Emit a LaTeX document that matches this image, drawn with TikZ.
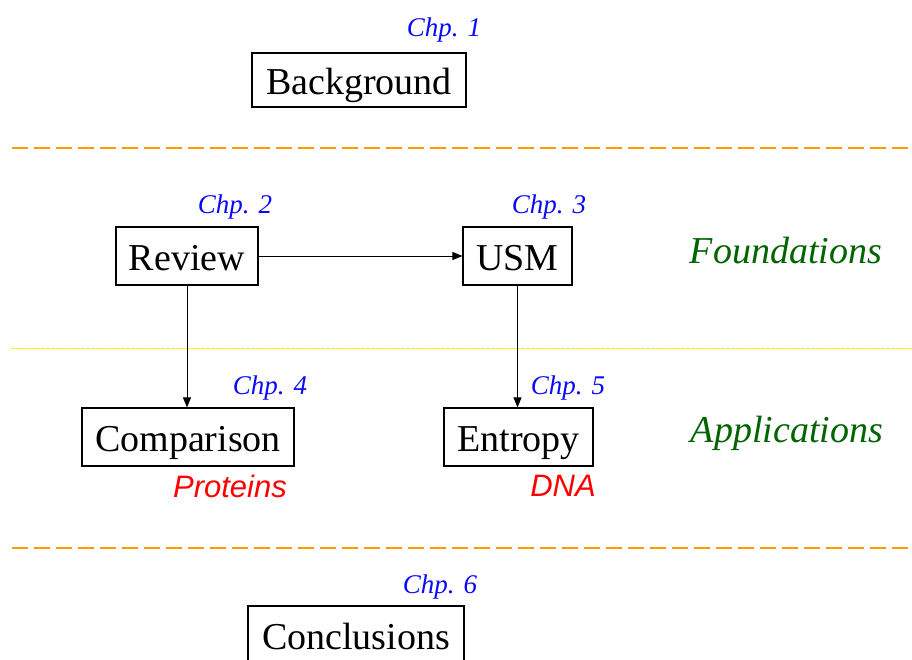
\documentclass[tikz,border=0pt]{standalone}
\usepackage{fontspec}
\setmainfont{Liberation Serif}
\newfontfamily\arialfont{Liberation Sans}
\usetikzlibrary{arrows.meta}
\definecolor{chpblue}{RGB}{10,10,250}
\definecolor{dgreen}{RGB}{0,100,0}
\definecolor{sepor}{RGB}{255,153,0}
\definecolor{sepyel}{RGB}{245,240,0}
\begin{document}
\begin{tikzpicture}[x=1pt,y=-1pt,
  boxnode/.style={draw=black,line width=1.2pt,inner sep=0pt,
    font=\fontsize{38}{40}\selectfont,text height=28pt,text depth=0pt,minimum height=58pt},
  chplabel/.style={inner sep=0pt,text=chpblue,font=\fontsize{27}{29}\selectfont\itshape},
  partlabel/.style={inner sep=0pt,text=dgreen,font=\fontsize{38}{40}\selectfont\itshape},
  datalabel/.style={inner sep=0pt,text=red,font=\fontsize{31}{33}\selectfont\arialfont\itshape},
  conn/.style={line width=0.9pt,-{Triangle[length=10pt,width=8pt]}},
  orsep/.style={draw=sepor,line width=2.5pt,dash pattern=on 16pt off 6pt},
  yelsep/.style={draw=sepyel,line width=1pt,dash pattern=on 4pt off 1pt}]
\useasboundingbox (0,0) rectangle (912,659);
\clip (0,0) rectangle (912,659);
\fill[white] (0,0) rectangle (912,659);

% separators
\draw[orsep] (12,148) -- (912,148);
\draw[orsep] (12,548) -- (912,548);
\draw[yelsep] (11,348) -- (912,348);

% boxes
\node[boxnode,minimum width=214pt,minimum height=54pt] (bg) at (359,80) {Background};
\node[boxnode,minimum width=142pt] (rev) at (187,256) {Review};
\node[boxnode,minimum width=109pt] (usm) at (517.5,256) {USM};
\node[boxnode,minimum width=212pt] (cmp) at (188,437) {Comparison};
\node[boxnode,minimum width=149pt] (ent) at (518.5,437) {Entropy};
\node[boxnode,minimum width=216pt] (con) at (356,635) {Conclusions};

% chapter labels
\node[chplabel] (c1) at (444,30) {Chp. 1};
\node[chplabel] (c2) at (235,207) {Chp. 2};
\node[chplabel] (c3) at (549,207) {Chp. 3};
\node[chplabel] (c4) at (270,388) {Chp. 4};
\node[chplabel] (c5) at (568,388) {Chp. 5};
\node[chplabel] (c6) at (440,587) {Chp. 6};

% part labels
\node[partlabel] (fnd) at (786,251) {Foundations};
\node[partlabel] (app) at (787,433) {Applications};

% data labels
\node[datalabel] (prot) at (230,486) {Proteins};
\node[datalabel] (dna) at (563,486) {DNA};

% connectors
\draw[conn] (rev.east) -- (usm.west);
\draw[conn] (rev.south) -- (rev.south |- cmp.north);
\draw[conn] (usm.south) -- (usm.south |- ent.north);
\end{tikzpicture}
\end{document}
